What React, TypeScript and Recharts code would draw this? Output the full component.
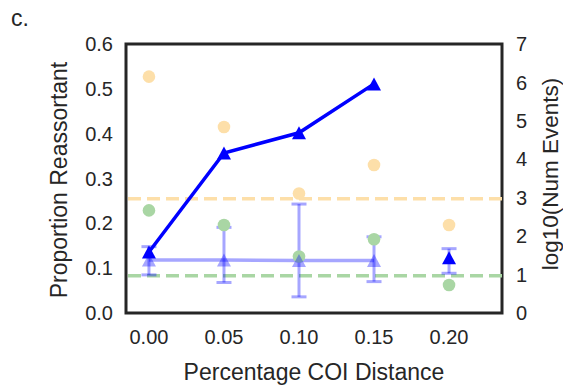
import React from "react";
import {
  ComposedChart,
  Line,
  XAxis,
  YAxis,
  ReferenceLine,
  ReferenceArea,
  ErrorBar,
} from "recharts";

// ---- data ----
const coiDistance = [0.0, 0.05, 0.1, 0.15, 0.2];
const xTicks = [0.0, 0.05, 0.1, 0.15, 0.2];
const leftTicks = [0, 0.1, 0.2, 0.3, 0.4, 0.5, 0.6];
const rightTicks = [0, 1, 2, 3, 4, 5, 6, 7];

// proportion reassortant (observed, solid line)
const propObserved: (number | null)[] = [0.136, 0.357, 0.402, 0.511, null];
// isolated observed point at 0.20
const propIsolated: (number | null)[] = [null, null, null, null, 0.123];
// null-model proportion (transparent line)
const propNull: (number | null)[] = [0.118, 0.118, 0.117, 0.117, null];
// error ranges (low/high) for the transparent series and isolated point
const nullLow = [0.085, 0.068, 0.036, 0.07, 0.0886];
const nullHigh = [0.148, 0.191, 0.243, 0.17, 0.1435];

// log10(num events), right axis
const orangeEvents = [6.15, 4.84, 3.11, 3.85, 2.29];
const greenEvents = [2.67, 2.29, 1.47, 1.92, 0.73];
const orangeThreshold = 2.97;
const greenThreshold = 0.97;

const rows = coiDistance.map((x, i) => {
  const centre = propNull[i] != null ? propNull[i] : propIsolated[i];
  const err =
    centre != null ? [centre - nullLow[i], nullHigh[i] - centre] : null;
  return {
    x,
    observed: propObserved[i],
    isolated: propIsolated[i],
    nullProp: propNull[i],
    nullErr: propNull[i] != null ? err : null,
    isoErr: propIsolated[i] != null ? err : null,
    orange: orangeEvents[i],
    green: greenEvents[i],
  };
});

const TEXT = "#262626";
const FONT = "'Liberation Sans', Arial, sans-serif";
const BLUE = "#0000ff";
const LIGHT_BLUE = "rgba(0,0,255,0.35)";
const ORANGE_DOT = "#fddfa9";
const GREEN_DOT = "#a9d6a4";

const triangle = (fill: string) => (props: any) => {
  const { cx, cy, index } = props;
  if (cx == null || cy == null || isNaN(cy)) return <g key={`t-${index}`} />;
  return (
    <polygon
      key={`t-${index}`}
      points={`${cx},${cy - 6.5} ${cx - 7},${cy + 6.5} ${cx + 7},${cy + 6.5}`}
      fill={fill}
      stroke="none"
    />
  );
};

const circle = (fill: string) => (props: any) => {
  const { cx, cy, index } = props;
  if (cx == null || cy == null || isNaN(cy)) return <g key={`c-${index}`} />;
  return <circle key={`c-${index}`} cx={cx} cy={cy} r={6.3} fill={fill} />;
};

export default function App() {
  return (
    <div
      style={{
        position: "absolute",
        left: 0,
        top: 0,
        width: 563,
        height: 386,
        background: "#fff",
        fontFamily: FONT,
      }}
    >
      <ComposedChart
        width={563}
        height={386}
        data={rows}
        margin={{ top: 44, right: 0, bottom: 0, left: 0 }}
        style={{ fontFamily: FONT }}
      >
        <XAxis
          dataKey="x"
          type="number"
          domain={[-0.0153, 0.2353]}
          allowDataOverflow
          ticks={xTicks}
          tickFormatter={(v: number) => v.toFixed(2)}
          axisLine={false}
          tickLine={false}
          tickSize={0}
          tickMargin={17}
          height={73}
          tick={{ fill: TEXT, fontSize: 20, fontFamily: FONT }}
        />
        <YAxis
          yAxisId="left"
          domain={[0, 0.6]}
          ticks={leftTicks}
          tickFormatter={(v: number) => v.toFixed(1)}
          axisLine={false}
          tickLine={false}
          tickSize={0}
          tickMargin={13}
          width={126}
          tick={{ fill: TEXT, fontSize: 20, fontFamily: FONT }}
        />
        <YAxis
          yAxisId="right"
          orientation="right"
          domain={[0, 7]}
          ticks={rightTicks}
          axisLine={false}
          tickLine={false}
          tickSize={0}
          tickMargin={14}
          width={61}
          tick={{ fill: TEXT, fontSize: 20, fontFamily: FONT, textAnchor: "start" }}
        />

        <ReferenceLine
          yAxisId="right"
          y={orangeThreshold}
          stroke={ORANGE_DOT}
          strokeWidth={3.5}
          strokeDasharray="13 6"
        />
        <ReferenceLine
          yAxisId="right"
          y={greenThreshold}
          stroke={GREEN_DOT}
          strokeWidth={3.5}
          strokeDasharray="13 6"
        />

        <Line
          yAxisId="right"
          dataKey="orange"
          stroke="none"
          dot={circle(ORANGE_DOT)}
          activeDot={false}
          isAnimationActive={false}
          legendType="none"
        />
        <Line
          yAxisId="right"
          dataKey="green"
          stroke="none"
          dot={circle(GREEN_DOT)}
          activeDot={false}
          isAnimationActive={false}
          legendType="none"
        />

        <Line
          yAxisId="left"
          dataKey="nullProp"
          stroke={LIGHT_BLUE}
          strokeWidth={3.5}
          dot={triangle(LIGHT_BLUE)}
          activeDot={false}
          isAnimationActive={false}
        >
          <ErrorBar
            dataKey="nullErr"
            direction="y"
            width={7.5}
            stroke={LIGHT_BLUE}
            strokeWidth={3}
            isAnimationActive={false}
          />
        </Line>
        <Line
          yAxisId="left"
          dataKey="isolated"
          stroke="none"
          dot={triangle(BLUE)}
          activeDot={false}
          isAnimationActive={false}
        >
          <ErrorBar
            dataKey="isoErr"
            direction="y"
            width={7.5}
            stroke={LIGHT_BLUE}
            strokeWidth={3}
            isAnimationActive={false}
          />
        </Line>
        <Line
          yAxisId="left"
          dataKey="observed"
          stroke={BLUE}
          strokeWidth={3.5}
          dot={triangle(BLUE)}
          activeDot={false}
          isAnimationActive={false}
        />

        <ReferenceArea
          yAxisId="left"
          x1={-0.0153}
          x2={0.2353}
          y1={0}
          y2={0.6}
          fill="none"
          stroke={TEXT}
          strokeWidth={3}
          ifOverflow="visible"
        />
      </ComposedChart>
      <svg
        width={563}
        height={386}
        style={{ position: "absolute", left: 0, top: 0, pointerEvents: "none" }}
      >
        <text x={11} y={26} fontSize={23} fill={TEXT} fontFamily={FONT}>
          c.
        </text>
        <text
          x={314}
          y={372}
          fontSize={23}
          fill={TEXT}
          fontFamily={FONT}
          textAnchor="middle"
          dominantBaseline="central"
        >
          Percentage COI Distance
        </text>
        <text
          transform="translate(59,180) rotate(-90)"
          fontSize={23}
          fill={TEXT}
          fontFamily={FONT}
          textAnchor="middle"
          dominantBaseline="central"
        >
          Proportion Reassortant
        </text>
        <text
          transform="translate(550.5,174) rotate(-90)"
          fontSize={22.5}
          fill={TEXT}
          fontFamily={FONT}
          textAnchor="middle"
          dominantBaseline="central"
        >
          log10(Num Events)
        </text>
      </svg>
    </div>
  );
}
